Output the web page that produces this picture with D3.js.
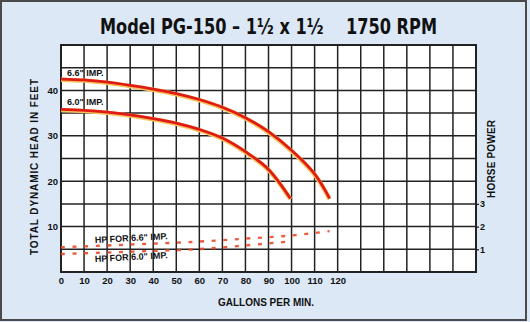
<!DOCTYPE html>
<html><head><meta charset="utf-8">
<script src="https://cdn.jsdelivr.net/npm/d3@7"></script>
<style>
html,body{margin:0;padding:0;background:#dce8f6;}
svg{display:block;}
text{font-family:"Liberation Sans",Arial,sans-serif;font-weight:bold;fill:#111;}
</style></head>
<body><svg id="c" width="530" height="322"></svg>
<script>
// ---- data ----
const gpmTicks = [0,10,20,30,40,50,60,70,80,90,100,110,120];
const headTicks = [10,20,30,40];
const hpTicks = [1,2,3];
const gpm66 = [0,10,20,30,40,50,60,70,80,90,100,110,116.5];
const head66 = [42.5,42.3,41.8,41.1,40.3,39.3,38.0,36.3,34.0,30.9,26.8,21.6,16.2];
const gpm60 = [0,10,20,30,40,50,60,70,80,90,99.5];
const head60 = [35.8,35.6,35.2,34.6,33.8,32.8,31.4,29.5,26.5,22.6,16.2];
const hpGpm66 = [0,20,40,60,80,100,116.5];
const hp66 = [1.09,1.17,1.25,1.34,1.47,1.61,1.8];
const hpGpm60 = [0,20,40,60,80,99.5];
const hp60 = [0.79,0.86,0.93,1.01,1.17,1.35];

const svg = d3.select("#c");
svg.append("rect").attr("x",1).attr("y",1).attr("width",525).attr("height",319)
  .attr("fill","#dce8f6").attr("stroke","#4a4a4a").attr("stroke-width",2);

const x = d3.scaleLinear().domain([0,180]).range([61,476]);
const y = d3.scaleLinear().domain([0,50]).range([272,45]);
const yhp = d3.scaleLinear().domain([0,10]).range([272,45]);

svg.append("text").attr("x",100).attr("y",34)
  .attr("textLength",337).attr("lengthAdjust","spacingAndGlyphs")
  .style("font-family","'DejaVu Sans Condensed','DejaVu Sans',sans-serif")
  .style("font-size","22px").style("font-weight","900").attr("fill","#111")
  .text("Model PG-150 \u2013 1\u00BD x 1\u00BD \u00A0\u00A0\u00A01750 RPM");

// plot area
svg.append("rect").attr("x",x(0)).attr("y",y(50)).attr("width",x(180)-x(0)).attr("height",y(0)-y(50)).attr("fill","#fff");
const g = svg.append("g");
g.selectAll(".v").data(d3.range(0,181,10)).join("line")
  .attr("x1",d=>x(d)).attr("x2",d=>x(d)).attr("y1",y(0)).attr("y2",y(50))
  .attr("stroke","#222").attr("stroke-width",1.5);
g.selectAll(".h").data(d3.range(0,51,5)).join("line")
  .attr("x1",x(0)-1).attr("x2",x(180)).attr("y1",d=>y(d)).attr("y2",d=>y(d))
  .attr("stroke","#222").attr("stroke-width",1.5);
svg.append("rect").attr("x",x(0)).attr("y",y(50)).attr("width",x(180)-x(0)).attr("height",y(0)-y(50))
  .attr("fill","none").attr("stroke","#222").attr("stroke-width",2);

// axes
const ax = svg.append("g").attr("transform",`translate(0,${y(0)+3})`)
  .call(d3.axisBottom(x).tickValues(gpmTicks).tickSize(0).tickPadding(2));
ax.select(".domain").remove();
ax.selectAll("text").style("font-size","9.5px").style("font-family","'Liberation Sans',Arial,sans-serif").style("font-weight","bold").attr("fill","#111");
const ay = svg.append("g").attr("transform",`translate(${x(0)-1},0)`)
  .call(d3.axisLeft(y).tickValues(headTicks).tickSize(0).tickPadding(2));
ay.select(".domain").remove();
ay.selectAll("text").style("font-size","9.5px").style("font-family","'Liberation Sans',Arial,sans-serif").style("font-weight","bold").attr("fill","#111");
const ar = svg.append("g").attr("transform",`translate(${x(180)},0)`)
  .call(d3.axisRight(yhp).tickValues(hpTicks).tickSize(3).tickPadding(1));
ar.select(".domain").remove();
ar.selectAll("line").attr("stroke","#222").attr("stroke-width",1.3);
ar.selectAll("text").style("font-size","9px").style("font-family","'Liberation Sans',Arial,sans-serif").style("font-weight","bold").attr("fill","#111");

svg.append("text").attr("transform","translate(38,167) rotate(-90)").attr("text-anchor","middle")
  .attr("textLength",176).attr("lengthAdjust","spacing")
  .style("font-size","10px").text("TOTAL DYNAMIC HEAD IN FEET");
svg.append("text").attr("transform","translate(495,159) rotate(-90)").attr("text-anchor","middle")
  .attr("textLength",78).attr("lengthAdjust","spacing")
  .style("font-size","10px").text("HORSE POWER");
svg.append("text").attr("x",266).attr("y",306).attr("text-anchor","middle")
  .style("font-size","10px").text("GALLONS PER MIN.");

// curves
const line = d3.line().curve(d3.curveCatmullRom.alpha(0.5));
function curve(xs, ys){ return line(xs.map((v,i)=>[x(v), y(ys[i])])); }
[[gpm66,head66],[gpm60,head60]].forEach(([a,b])=>{
  svg.append("path").attr("d",curve(a,b)).attr("fill","none").attr("stroke","#f6c25a").attr("stroke-width",4.4).attr("transform","translate(0,0.7)");
  svg.append("path").attr("d",curve(a,b)).attr("fill","none").attr("stroke","#e01a14").attr("stroke-width",2.8);
});
function hpCurve(xs, hs){ return line(xs.map((v,i)=>[x(v), yhp(hs[i])])); }
[[hpGpm66,hp66],[hpGpm60,hp60]].forEach(([a,b])=>{
  svg.append("path").attr("d",hpCurve(a,b)).attr("fill","none").attr("stroke","#ea4a2a")
    .attr("stroke-width",2.4).attr("stroke-dasharray","4,7.6").attr("opacity",0.9);
});

svg.append("text").attr("x",67).attr("y",76).style("font-size","9px").text("6.6\" IMP.");
svg.append("text").attr("x",67).attr("y",105).style("font-size","9px").text("6.0\" IMP.");
svg.append("text").attr("transform","translate(95,243) rotate(-3)").style("font-size","9px").text("HP FOR 6.6\" IMP.");
svg.append("text").attr("transform","translate(95,262) rotate(-3)").style("font-size","9px").text("HP FOR 6.0\" IMP.");
</script></body></html>
